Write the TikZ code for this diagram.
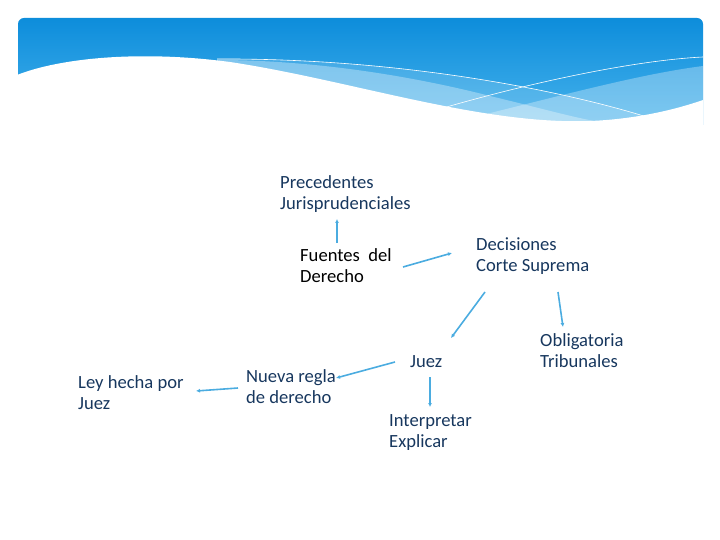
\documentclass[tikz,border=0pt]{standalone}
\usepackage{fontspec}
\setmainfont{Carlito}
\usetikzlibrary{arrows.meta,calc}
\definecolor{navy}{RGB}{23,55,94}
\definecolor{arrowblue}{RGB}{75,172,224}
\definecolor{topblue}{RGB}{13,141,219}
\definecolor{botblue}{RGB}{70,178,236}
\tikzset{
  lbl/.style={anchor=north west, inner sep=0pt, align=left, text=navy,
    font=\fontsize{18.6}{21}\selectfont},
  conn/.style={draw=arrowblue, line width=1.6pt,
    -{Latex[length=4pt,width=4pt]}, shorten <=0pt},
  wline/.style={draw=white, line width=0.6pt}
}
\begin{document}
\begin{tikzpicture}[x=1pt,y=-1pt]
\useasboundingbox (0,0) rectangle (720,540);
% header banner
\begin{scope}
  \clip[rounded corners=6pt] (18,18) rectangle (703,135);
  \shade[top color=topblue, bottom color=botblue] (18,18) rectangle (703,125);
  % lighter region under line 1
  \fill[white, opacity=0.15] (217,59) .. controls (400,58) and (560,90) .. (647,117) -- (647,135) -- (217,135) -- cycle;
  % band A
  \fill[white, opacity=0.32] (217,60) .. controls (320,60) and (420,78) .. (490,96) .. controls (540,108) and (575,118) .. (600,122) -- (600,135) -- (217,135) -- cycle;
  % band B
  \fill[white, opacity=0.3] (470,118) .. controls (560,96) and (640,74) .. (703,66) -- (703,135) -- (470,135) -- cycle;
  % white wave
  \fill[white] (17,75) .. controls (60,58) and (140,50) .. (230,62) .. controls (350,80) and (480,125) .. (590,121) .. controls (640,119) and (680,108) .. (703,100) -- (703,140) -- (17,140) -- cycle;
  % thin white lines
  \draw[wline] (217,59) .. controls (400,58) and (560,90) .. (647,117);
  \draw[wline] (443,108) .. controls (540,80) and (640,60) .. (703,57);
\end{scope}
% nodes
\node[lbl] (prec) at (280,174) {\strut Precedentes\\Jurisprudenciales};
\node[lbl, text=black] (fuentes) at (300,247) {\strut Fuentes~ del\\Derecho};
\node[lbl] (decis) at (476,236) {\strut Decisiones\\Corte Suprema};
\node[lbl] (ley) at (78,374) {\strut Ley hecha por\\Juez};
\node[lbl] (nueva) at (246,368) {\strut Nueva regla\\de derecho};
\node[lbl] (juez) at (410,353) {\strut Juez};
\node[lbl] (oblig) at (540,332) {\strut Obligatoria\\Tribunales};
\node[lbl] (interp) at (389,412) {\strut Interpretar\\Explicar};
% connectors
\draw[conn] ($(fuentes.north west)+(37,-4)$) -- ($(prec.north west)+(57,45)$);
\draw[conn] ($(fuentes.north west)+(103,20)$) -- ($(decis.north west)+(-24,17)$);
\draw[conn] ($(decis.north west)+(9,56)$) -- ($(juez.north west)+(41,-15)$);
\draw[conn] ($(decis.north west)+(82,56)$) -- ($(oblig.north west)+(23,-5)$);
\draw[conn] ($(juez.north west)+(20,24)$) -- ($(interp.north west)+(41,-5)$);
\draw[conn] ($(juez.north west)+(-15,9)$) -- ($(nueva.north west)+(90,10)$);
\draw[conn] ($(nueva.north west)+(-8,20)$) -- ($(ley.north west)+(118,17)$);
\end{tikzpicture}
\end{document}
